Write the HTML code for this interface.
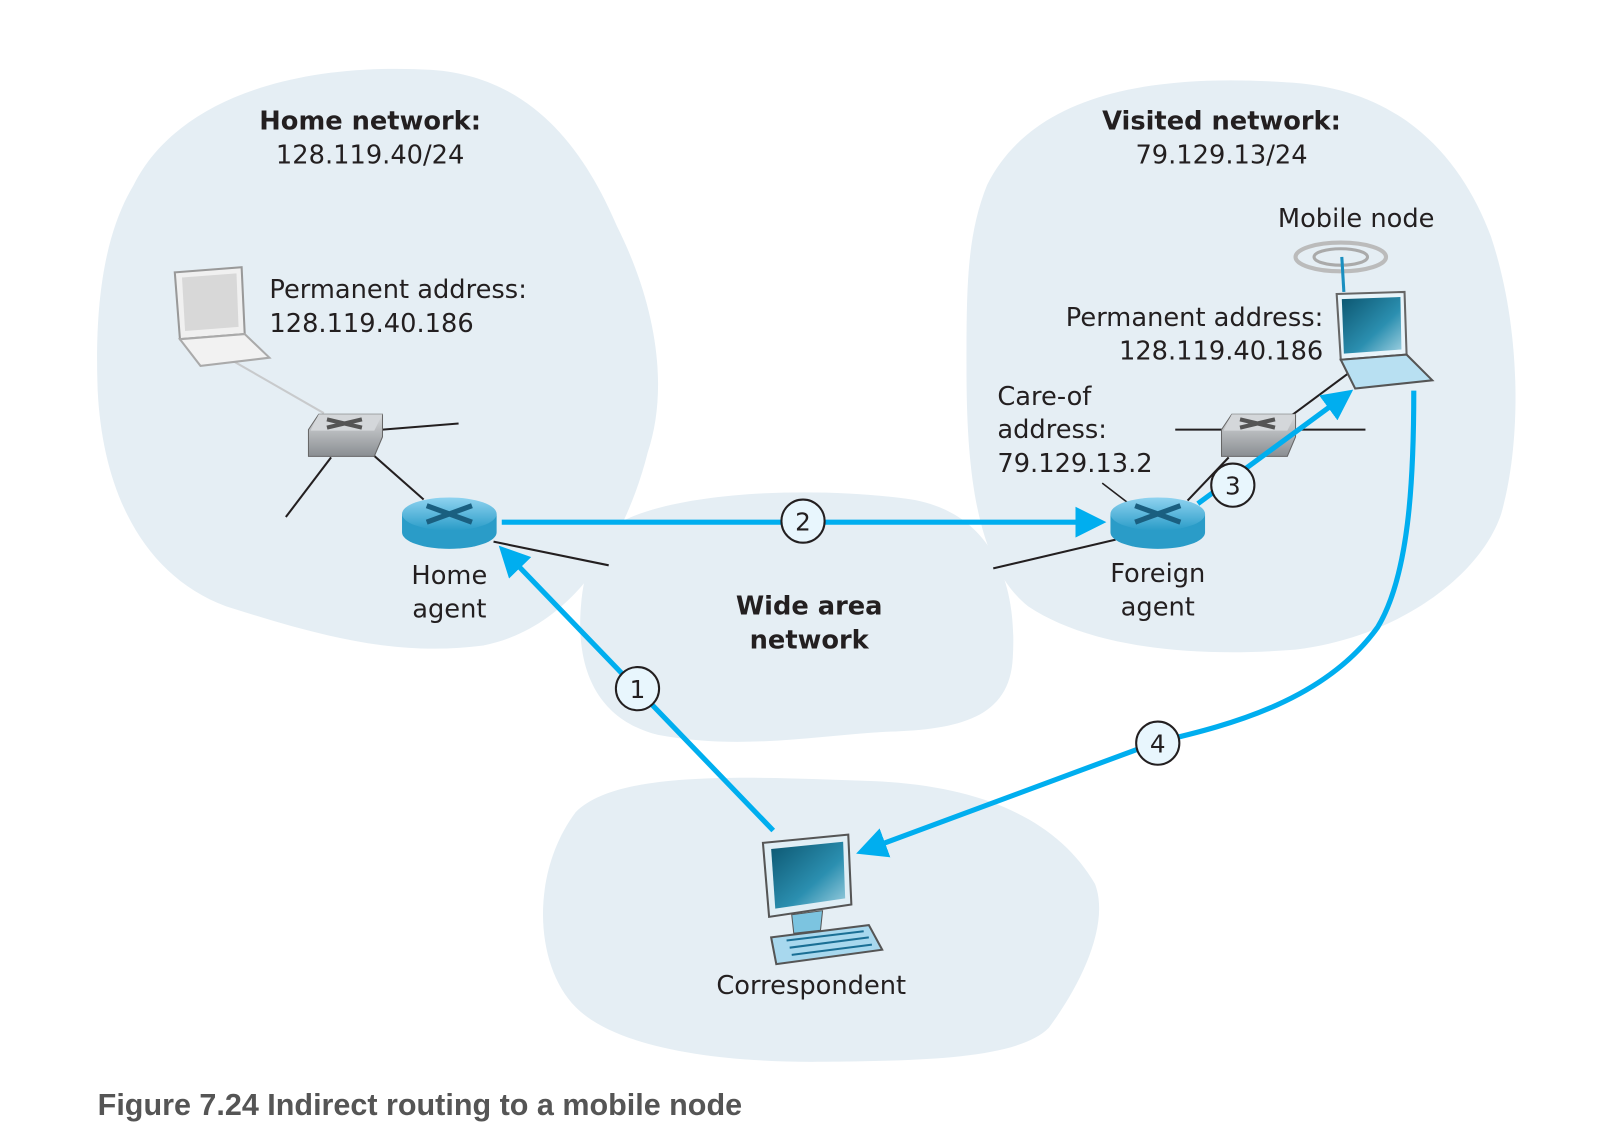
<!DOCTYPE html>
<html><head><meta charset="utf-8"><style>
html,body{margin:0;padding:0;background:#fff;}
svg{display:block}
text{font-family:"DejaVu Sans","Liberation Sans",sans-serif;fill:#231f20;}
</style></head><body>
<svg width="1604" height="1144" viewBox="0 0 1560 1113" preserveAspectRatio="none" xmlns="http://www.w3.org/2000/svg">
<defs>
<marker id="ah" markerWidth="6" markerHeight="6" refX="4" refY="3" orient="auto" markerUnits="strokeWidth">
<path d="M0,0 L6,3 L0,6 Z" fill="#00aeef"/></marker>
<linearGradient id="rt" x1="0" y1="0" x2="0" y2="1"><stop offset="0" stop-color="#8fd3f0"/><stop offset="1" stop-color="#2a9cc8"/></linearGradient>
<linearGradient id="sw" x1="0" y1="0" x2="0" y2="1"><stop offset="0" stop-color="#d8dadc"/><stop offset="1" stop-color="#8a8e92"/></linearGradient>
<linearGradient id="scr" x1="0" y1="0" x2="1" y2="1"><stop offset="0" stop-color="#0c5670"/><stop offset="0.6" stop-color="#2b8fb0"/><stop offset="1" stop-color="#9fd0e0"/></linearGradient>
</defs>
<g fill="#e5eef4">
<path d="M130,180 C170,100 280,60 420,68 C520,75 570,150 600,220 C640,300 650,380 630,440 C610,520 560,610 470,628 C380,640 300,615 220,590 C140,560 100,480 95,380 C92,300 100,230 130,180 Z"/>
<path d="M960,180 C1000,100 1100,70 1250,80 C1360,85 1420,150 1450,230 C1480,320 1480,430 1460,500 C1440,560 1360,620 1260,632 C1160,640 1060,630 1000,590 C950,550 940,460 940,360 C940,280 940,230 960,180 Z"/>
<path d="M600,510 C650,480 780,472 880,485 C960,495 990,560 985,640 C982,700 930,710 860,712 C790,716 720,730 640,715 C580,700 560,650 565,590 C568,550 580,525 600,510 Z"/>
<path d="M560,790 C600,750 720,755 850,760 C960,765 1030,800 1065,860 C1080,900 1050,960 1020,1000 C990,1030 900,1032 800,1033 C700,1034 600,1020 560,980 C520,940 515,850 560,790 Z"/>
</g>
<g stroke="#231f20" stroke-width="2" fill="none">
<line x1="360" y1="440" x2="412" y2="486"/>
<line x1="322" y1="445" x2="278" y2="503"/>
<line x1="372" y1="418" x2="446" y2="412"/>
<line x1="480" y1="527" x2="592" y2="550"/>
<line x1="1085" y1="525" x2="966" y2="553"/>
<line x1="1072" y1="470" x2="1098" y2="490" stroke-width="1.5"/>
<line x1="1155" y1="487" x2="1195" y2="445"/>
<line x1="1143" y1="418" x2="1328" y2="418"/>
<line x1="1255" y1="405" x2="1313" y2="362"/>
</g>
<line x1="228" y1="352" x2="315" y2="402" stroke="#c8cacc" stroke-width="2"/>
<g>
<path d="M300,418 L310,403 L372,403 L372,425 L364,444 L300,444 Z" fill="url(#sw)" stroke="#666" stroke-width="1"/>
<path d="M302,419 L310,403 L372,403 L364,419 Z" fill="#d4d7da"/>
<path d="M318,408 L352,416 M318,416 L352,408" stroke="#555" stroke-width="4"/>
<path d="M1188,418 L1198,403 L1260,403 L1260,425 L1252,444 L1188,444 Z" fill="url(#sw)" stroke="#666" stroke-width="1"/>
<path d="M1190,419 L1198,403 L1260,403 L1252,419 Z" fill="#d4d7da"/>
<path d="M1206,408 L1240,416 M1206,416 L1240,408" stroke="#555" stroke-width="4"/>
</g>
<g>
<path d="M170,265 L235,260 L238,325 L175,330 Z" fill="#f0f0f0" stroke="#999" stroke-width="2"/>
<path d="M177,270 L230,266 L232,318 L180,322 Z" fill="#d8d8d8"/>
<path d="M175,330 L238,325 L262,348 L195,356 Z" fill="#f2f2f2" stroke="#aaa" stroke-width="2"/>
</g>
<g stroke="#00aeef" stroke-width="5" fill="none">
<line x1="488" y1="508" x2="1066" y2="508" marker-end="url(#ah)"/>
<line x1="752" y1="808" x2="492" y2="538" marker-end="url(#ah)"/>
<line x1="1165" y1="490" x2="1308" y2="385" marker-end="url(#ah)"/>
<path d="M1375,380 C1375,470 1370,560 1340,610 C1290,680 1200,705 1125,722 L842,827" marker-end="url(#ah)"/>
</g>
<g>
<path d="M391,500 L391,518 A46,16 0 0 0 483,518 L483,500 Z" fill="#2a9cc8"/>
<ellipse cx="437" cy="500" rx="46" ry="16" fill="url(#rt)"/>
<path d="M415,492 L459,508 M415,508 L459,492" stroke="#1a5f80" stroke-width="5"/>
<path d="M1080,500 L1080,518 A46,16 0 0 0 1172,518 L1172,500 Z" fill="#2a9cc8"/>
<ellipse cx="1126" cy="500" rx="46" ry="16" fill="url(#rt)"/>
<path d="M1104,492 L1148,508 M1104,508 L1148,492" stroke="#1a5f80" stroke-width="5"/>
</g>
<g>
<ellipse cx="1304" cy="250" rx="44" ry="14" fill="none" stroke="#bbb" stroke-width="4"/>
<ellipse cx="1304" cy="250" rx="26" ry="8" fill="none" stroke="#aaa" stroke-width="3"/>
<line x1="1305" y1="250" x2="1307" y2="284" stroke="#1a8fc0" stroke-width="3"/>
<path d="M1300,286 L1366,284 L1368,345 L1304,350 Z" fill="#e8f4fa" stroke="#666" stroke-width="2"/>
<path d="M1305,291 L1362,289 L1363,340 L1307,344 Z" fill="url(#scr)"/>
<path d="M1304,350 L1368,345 L1393,370 L1318,378 Z" fill="#b8e0f2" stroke="#555" stroke-width="2"/>
</g>
<g>
<path d="M742,820 L825,812 L828,880 L748,892 Z" fill="#e0eef5" stroke="#555" stroke-width="2"/>
<path d="M750,826 L820,819 L822,874 L754,884 Z" fill="url(#scr)"/>
<path d="M770,890 L800,886 L798,905 L772,908 Z" fill="#7cc4e0" stroke="#555"/>
<path d="M750,912 L845,900 L858,924 L755,938 Z" fill="#a8d8ee" stroke="#555" stroke-width="2"/>
<path d="M765,915 L840,906 M768,922 L845,912 M770,929 L848,919" stroke="#1a6f95" stroke-width="2"/>
</g>
<g fill="#e8f6fd" stroke="#231f20" stroke-width="2">
<circle cx="781" cy="507" r="21"/><circle cx="620" cy="670" r="21"/>
<circle cx="1199" cy="472" r="21"/><circle cx="1126" cy="723" r="21"/>
</g>
<g font-size="24" text-anchor="middle">
<text x="781" y="516">2</text><text x="620" y="679">1</text>
<text x="1199" y="481">3</text><text x="1126" y="732">4</text>
</g>
<g font-size="25">
<text x="360" y="126" text-anchor="middle" font-weight="bold">Home network:</text>
<text x="360" y="159" text-anchor="middle">128.119.40/24</text>
<text x="1188" y="126" text-anchor="middle" font-weight="bold">Visited network:</text>
<text x="1188" y="159" text-anchor="middle">79.129.13/24</text>
<text x="262" y="290">Permanent address:</text>
<text x="262" y="323">128.119.40.186</text>
<text x="1319" y="221" text-anchor="middle">Mobile node</text>
<text x="1287" y="317" text-anchor="end">Permanent address:</text>
<text x="1287" y="350" text-anchor="end">128.119.40.186</text>
<text x="970" y="394">Care-of</text>
<text x="970" y="426">address:</text>
<text x="970" y="459">79.129.13.2</text>
<text x="437" y="568" text-anchor="middle">Home</text>
<text x="437" y="601" text-anchor="middle">agent</text>
<text x="1126" y="566" text-anchor="middle">Foreign</text>
<text x="1126" y="599" text-anchor="middle">agent</text>
<text x="787" y="598" text-anchor="middle" font-weight="bold">Wide area</text>
<text x="787" y="631" text-anchor="middle" font-weight="bold">network</text>
<text x="789" y="967" text-anchor="middle">Correspondent</text>
</g>
<text x="95" y="1085" font-size="29.7" font-weight="bold" style="font-family:'Liberation Sans',sans-serif;fill:#555">Figure 7.24 Indirect routing to a mobile node</text>
</svg>
</body></html>
